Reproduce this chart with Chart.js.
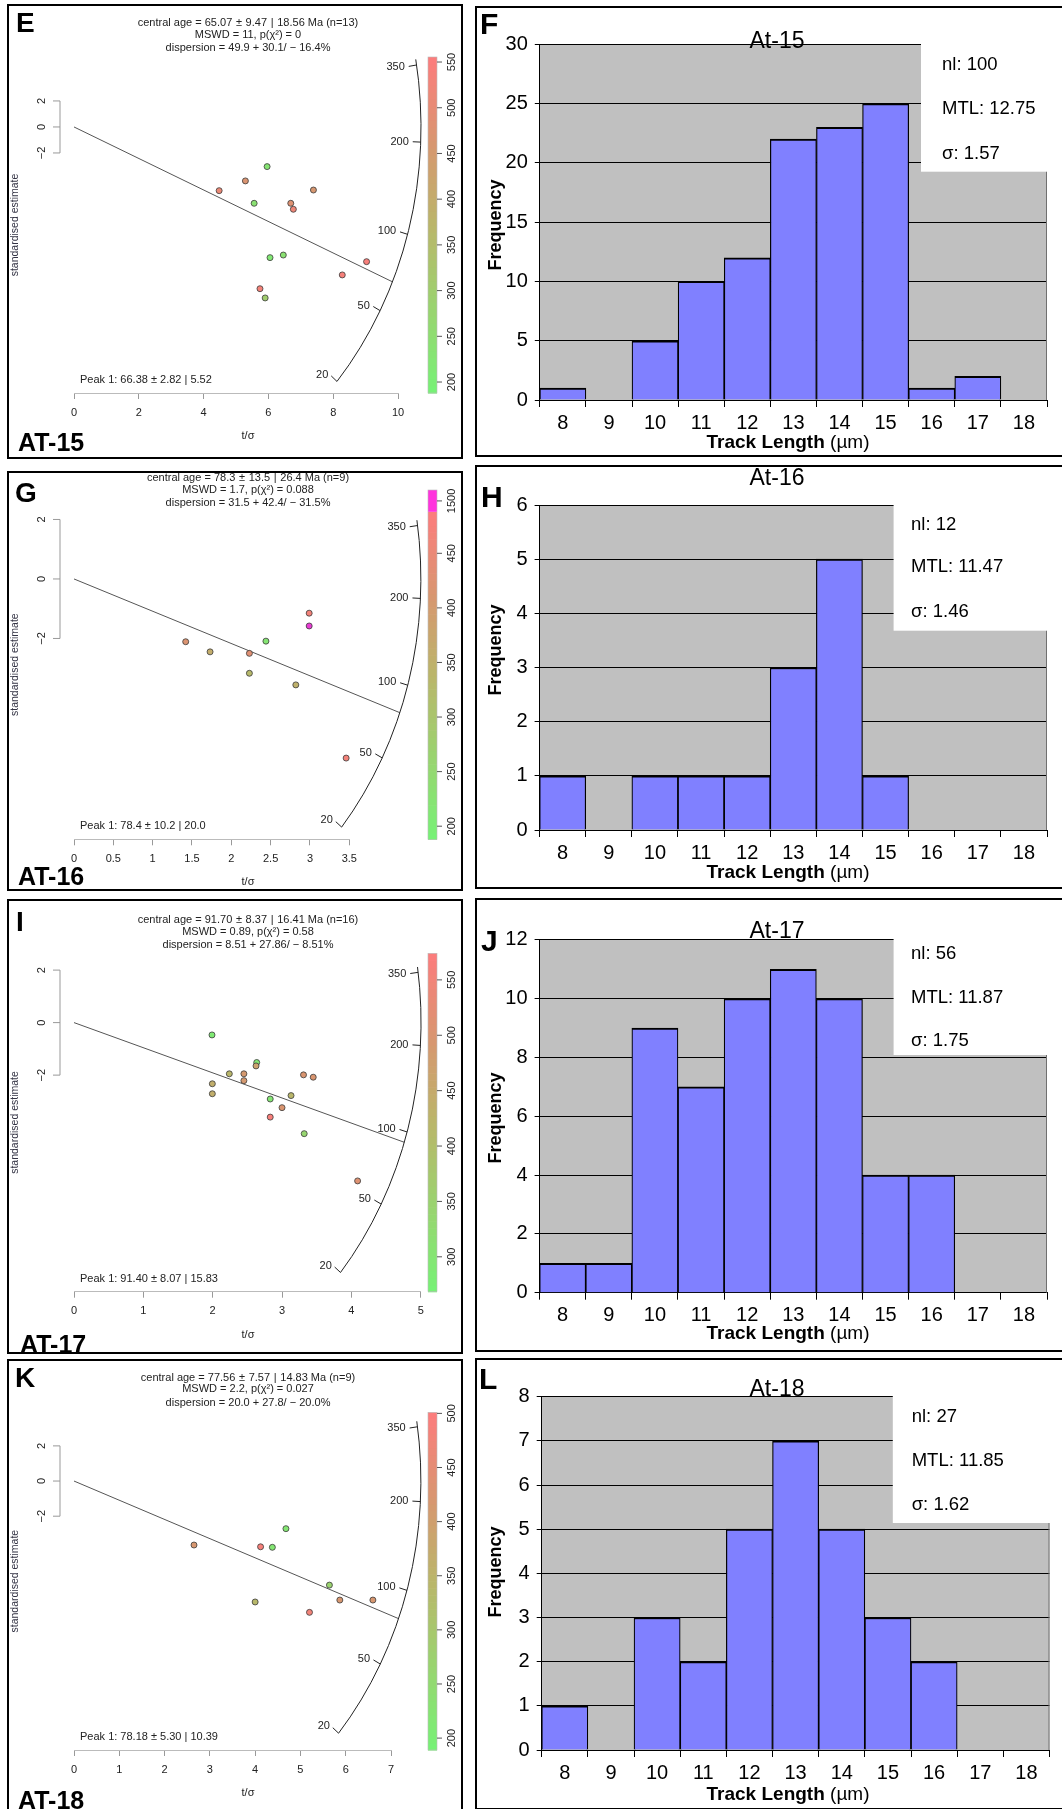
<!DOCTYPE html>
<html>
<head>
<meta charset="utf-8">
<title>Radial plots and track length histograms AT-15 to AT-18</title>
<script src="https://cdn.jsdelivr.net/npm/chart.js@4.4.1/dist/chart.umd.min.js"></script>
<style>
  body { margin: 0; background: #fff; }
  #page { position: relative; width: 1062px; height: 1809px; overflow: hidden; background: #fff; font-family: Arial, "Liberation Sans", sans-serif; }
  .frame { position: absolute; border: 2px solid #000; box-sizing: border-box; pointer-events: none; }
  .tag { position: absolute; font-weight: bold; line-height: 1; color: #000; white-space: nowrap; }
  canvas { position: absolute; }
</style>
</head>
<body>
<div id="page"></div>
<script>
// ---------- track length histograms ----------
const binLabels = ['8', '9', '10', '11', '12', '13', '14', '15', '16', '17', '18'];
const at15Freq = [1, 0, 5, 10, 12, 22, 23, 25, 1, 2, 0];
const at16Freq = [1, 0, 1, 1, 1, 3, 5, 1, 0, 0, 0];
const at17Freq = [1, 1, 9, 7, 10, 11, 10, 4, 4, 0, 0];
const at18Freq = [1, 0, 3, 2, 5, 7, 5, 3, 2, 0, 0];
const at15Stats = ['nl: 100', 'MTL: 12.75', 'σ: 1.57'];
const at16Stats = ['nl: 12', 'MTL: 11.47', 'σ: 1.46'];
const at17Stats = ['nl: 56', 'MTL: 11.87', 'σ: 1.75'];
const at18Stats = ['nl: 27', 'MTL: 11.85', 'σ: 1.62'];

// ---------- radial plots: t/sigma, standardised estimate, colour value ----------
const at15T = [5.96, 5.29, 4.48, 5.56, 6.69, 6.77, 7.39, 6.05, 6.46, 9.03, 8.28, 5.74, 5.90];
const at15Z = [-3.05, -4.15, -4.90, -5.87, -5.87, -6.33, -4.85, -10.05, -9.85, -10.36, -11.38, -12.44, -13.15];
const at15U = [230, 470, 510, 240, 480, 520, 460, 220, 240, 545, 540, 535, 300];

const at16T = [2.99, 2.99, 1.42, 1.73, 2.23, 2.44, 2.23, 2.82, 3.46];
const at16Z = [-1.15, -1.58, -2.11, -2.45, -2.50, -2.09, -3.17, -3.56, -6.02];
const at16U = [470, 1500, 420, 360, 430, 220, 330, 350, 470];

const at17T = [1.99, 2.24, 2.45, 2.45, 2.635, 2.625, 3.31, 3.45, 1.995, 1.995, 2.83, 3.13, 3.00, 2.83, 3.32, 4.09];
const at17Z = [-0.47, -1.95, -1.95, -2.21, -1.52, -1.65, -1.99, -2.08, -2.33, -2.71, -2.91, -2.78, -3.24, -3.60, -4.23, -6.03];
const at17U = [290, 420, 490, 490, 300, 470, 500, 500, 440, 440, 300, 420, 500, 565, 340, 510];

const at18T = [2.65, 4.12, 4.38, 4.68, 5.64, 4.00, 5.87, 6.60, 5.20];
const at18Z = [-3.64, -3.74, -3.77, -2.71, -5.92, -6.88, -6.77, -6.77, -7.47];
const at18U = [420, 490, 220, 220, 270, 340, 420, 420, 480];

const arcTicks = [20, 50, 100, 200, 350];
const zTicks = [2, 0, -2];

Chart.defaults.font.family = 'Arial, "Liberation Sans", sans-serif';
Chart.defaults.color = '#000';

const page = document.getElementById('page');
const SP = '\u2004'; // slightly wider space, as around plotmath operators

function makeCanvas(box) {
  const c = document.createElement('canvas');
  c.width = box.w;
  c.height = box.h;
  c.style.left = box.left + 'px';
  c.style.top = box.top + 'px';
  page.appendChild(c);
  return c;
}

function makeFrame(box) {
  const d = document.createElement('div');
  d.className = 'frame';
  d.style.left = box.left + 'px';
  d.style.top = box.top + 'px';
  d.style.width = box.w + 'px';
  d.style.height = box.h + 'px';
  page.appendChild(d);
}

function makeTag(text, left, capTop, size) {
  const d = document.createElement('div');
  d.className = 'tag';
  d.textContent = text;
  d.style.left = left + 'px';
  d.style.top = (capTop - 0.13 * size) + 'px';
  d.style.fontSize = size + 'px';
  page.appendChild(d);
}

// padding that puts the chart area where we want it inside the canvas
function pad(box, area, leftAxis, bottomAxis) {
  return {
    left: area.left - box.left - leftAxis,
    top: area.top - box.top,
    right: box.left + box.w - area.right,
    bottom: box.top + box.h - area.bottom - bottomAxis
  };
}

function rotText(ctx, text, x, y) {
  ctx.save();
  ctx.translate(x, y);
  ctx.rotate(-Math.PI / 2);
  ctx.fillText(text, 0, 0);
  ctx.restore();
}

// colour ramp of the colour bar (green -> olive -> red)
const rampStops = [
  [0.00, [118, 242, 118]],
  [0.30, [160, 206, 110]],
  [0.50, [186, 182, 106]],
  [0.75, [216, 150, 112]],
  [1.00, [252, 124, 124]]
];
function ramp(t) {
  t = Math.max(0, Math.min(1, t));
  for (let i = 1; i < rampStops.length; i++) {
    if (t <= rampStops[i][0]) {
      const [t0, c0] = rampStops[i - 1], [t1, c1] = rampStops[i];
      const f = (t - t0) / (t1 - t0);
      const c = c0.map((v, k) => Math.round(v + (c1[k] - v) * f));
      return `rgb(${c[0]},${c[1]},${c[2]})`;
    }
  }
  return 'rgb(252,124,124)';
}
function dotColour(u, r) {
  const top = r.cbBreak || r.cbMax;
  if (r.cbBreak && u > r.cbBreak) return '#e83cd4';
  return ramp((u - r.cbMin) / (top - r.cbMin));
}

// point on the age arc for a given age
function arcPoint(r, age) {
  const s = Math.log(age / r.t0);
  const x = 1 / Math.sqrt(1 / (r.rx * r.rx) + s * s / (r.ry * r.ry));
  return { x: x, y: s * x };
}

function radialDecor(r) {
  return {
    id: 'radialDecor',
    afterDraw(chart) {
      const ctx = chart.ctx, a = chart.chartArea, box = r.box;
      const xs = chart.scales.x, ys = chart.scales.y, cs = chart.scales.cb;
      const ox = xs.getPixelForValue(0), oy = ys.getPixelForValue(0);
      const rxPx = xs.getPixelForValue(r.rx) - ox, ryPx = oy - ys.getPixelForValue(r.ry);
      const angle = age => -Math.atan(Math.log(age / r.t0) * r.rx / r.ry);
      ctx.save();

      // age arc with ticks
      ctx.strokeStyle = '#222';
      ctx.lineWidth = 1;
      ctx.beginPath();
      ctx.ellipse(ox, oy, rxPx, ryPx, 0, angle(365), angle(arcTicks[0]));
      ctx.stroke();
      ctx.font = '11px Arial';
      ctx.fillStyle = '#222';
      ctx.textAlign = 'right';
      ctx.textBaseline = 'middle';
      arcTicks.forEach(age => {
        const f = angle(age);
        const x = ox + rxPx * Math.cos(f), y = oy + ryPx * Math.sin(f);
        const d = Math.hypot(x - ox, y - oy), ux = (ox - x) / d, uy = (oy - y) / d;
        ctx.beginPath();
        ctx.moveTo(x, y);
        ctx.lineTo(x + ux * 8, y + uy * 8);
        ctx.stroke();
        ctx.fillText(String(age), x + ux * 12, y + uy * 10);
      });

      // standardised estimate bracket
      const bx = a.left - 14;
      ctx.strokeStyle = '#999';
      ctx.beginPath();
      ctx.moveTo(bx, ys.getPixelForValue(Math.max(...zTicks)));
      ctx.lineTo(bx, ys.getPixelForValue(Math.min(...zTicks)));
      zTicks.forEach(v => {
        const y = ys.getPixelForValue(v);
        ctx.moveTo(bx, y);
        ctx.lineTo(bx - 7, y);
      });
      ctx.stroke();
      ctx.textAlign = 'center';
      ctx.fillStyle = '#222';
      zTicks.forEach(v => rotText(ctx, v < 0 ? '\u2212' + (-v) : String(v), bx - 18, ys.getPixelForValue(v)));
      ctx.font = '10.5px Arial';
      ctx.fillStyle = '#334';
      rotText(ctx, 'standardised estimate', a.left - 59, (a.top + a.bottom) / 2);

      // header and peak text
      ctx.fillStyle = '#222';
      ctx.font = '11px Arial';
      const hx = a.left + 174;
      r.header.forEach((line, i) => ctx.fillText(line, hx, r.headY - box.top + [0, 11.5, 25][i]));
      ctx.fillText('t/σ', hx, a.bottom + 43);
      ctx.textAlign = 'left';
      ctx.fillText(r.peakText, a.left + 6, a.bottom - 13);

      // colour bar
      const cbx = 428 - box.left, cbw = 9;
      const top = r.cbBreak || r.cbMax, n = 48;
      for (let i = 0; i < n; i++) {
        const v0 = r.cbMin + (top - r.cbMin) * i / n;
        const v1 = r.cbMin + (top - r.cbMin) * (i + 1) / n;
        const y0 = cs.getPixelForValue(v0), y1 = cs.getPixelForValue(v1);
        ctx.fillStyle = ramp(((v0 + v1) / 2 - r.cbMin) / (top - r.cbMin));
        ctx.fillRect(cbx, y1, cbw, y0 - y1 + 0.6);
      }
      if (r.cbBreak) {
        const yb = cs.getPixelForValue(r.cbBreak), yt = cs.getPixelForValue(r.cbMax);
        ctx.fillStyle = '#ff33dd';
        ctx.fillRect(cbx, yt, cbw, yb - yt);
      }
      ctx.strokeStyle = '#bbb';
      ctx.lineWidth = 0.6;
      ctx.strokeRect(cbx, cs.getPixelForValue(r.cbMax), cbw, cs.getPixelForValue(r.cbMin) - cs.getPixelForValue(r.cbMax));
      ctx.strokeStyle = '#555';
      ctx.lineWidth = 1;
      ctx.fillStyle = '#222';
      ctx.font = '11px Arial';
      ctx.textAlign = 'center';
      const cbTickList = r.cbTicks.map(v => [v, String(v)]);
      if (r.cbBreak) cbTickList.push([r.cbOutlierAt, r.cbOutlierLabel]);
      cbTickList.forEach(([v, label]) => {
        const y = cs.getPixelForValue(v);
        ctx.beginPath();
        ctx.moveTo(cbx + cbw, y);
        ctx.lineTo(cbx + cbw + 5, y);
        ctx.stroke();
        rotText(ctx, label, cbx + cbw + 15, y);
      });
      ctx.restore();
    }
  };
}

function drawRadial(r) {
  const canvas = makeCanvas(r.box);
  const pts = r.t.map((t, i) => ({ x: t, y: r.z[i] }));
  new Chart(canvas, {
    type: 'scatter',
    data: {
      datasets: [
        {
          data: pts,
          pointRadius: 3,
          pointBackgroundColor: r.u.map(u => dotColour(u, r)),
          pointBorderColor: '#3a3a3a',
          pointBorderWidth: 0.8,
          clip: false,
          order: 1
        },
        {
          type: 'line',
          data: [{ x: 0, y: 0 }, arcPoint(r, r.peak)],
          borderColor: '#555',
          borderWidth: 1,
          pointRadius: 0,
          clip: false,
          order: 2
        }
      ]
    },
    options: {
      responsive: false,
      animation: false,
      events: [],
      layout: { padding: pad(r.box, r.area, 0, 30) },
      plugins: { legend: { display: false }, tooltip: { enabled: false } },
      scales: {
        x: {
          type: 'linear', min: 0, max: r.xMax,
          ticks: { stepSize: r.xStep, color: '#222', font: { size: 11 }, padding: 7, callback: v => String(v) },
          grid: { drawOnChartArea: false, tickLength: 6, color: '#999' },
          border: { color: '#bbb' },
          afterFit: s => { s.height = 30; }
        },
        y: { type: 'linear', display: false, min: r.yMin, max: r.yMax },
        cb: { type: 'linear', axis: 'y', position: 'right', display: false, min: r.cbMin, max: r.cbMax }
      }
    },
    plugins: [radialDecor(r)]
  });
  makeFrame(r.box);
}

function histDecor(h) {
  return {
    id: 'histDecor',
    beforeDraw(chart) {
      const a = chart.chartArea, ctx = chart.ctx;
      ctx.save();
      ctx.fillStyle = '#c0c0c0';
      ctx.fillRect(a.left, a.top, a.right - a.left, a.bottom - a.top);
      ctx.restore();
    },
    afterDraw(chart) {
      const a = chart.chartArea, ctx = chart.ctx, box = h.box;
      ctx.save();
      ctx.strokeStyle = '#707070';
      ctx.lineWidth = 1;
      ctx.beginPath();
      ctx.moveTo(a.right - 0.5, a.top);
      ctx.lineTo(a.right - 0.5, a.bottom);
      ctx.stroke();
      // stats box
      const bl = h.statBox.left - box.left, bb = h.statBox.bottom - box.top;
      ctx.fillStyle = '#fff';
      ctx.fillRect(bl, a.top - 10, box.w - bl, bb - a.top + 10);
      ctx.fillStyle = '#000';
      ctx.font = '18.5px Arial';
      ctx.textBaseline = 'middle';
      ctx.textAlign = 'left';
      h.stats.forEach((s, i) => ctx.fillText(s, h.statBox.textX - box.left, h.statBox.y[i] - box.top));
      // title
      ctx.font = '23px Arial';
      ctx.textAlign = 'center';
      ctx.fillText(h.title, 777 - box.left, h.titleY - box.top);
      // axis titles
      ctx.font = 'bold 18px Arial';
      rotText(ctx, 'Frequency', 496 - box.left, h.yTitleY - box.top);
      ctx.font = 'bold 19px Arial';
      const w1 = ctx.measureText('Track Length ').width;
      ctx.font = '19px Arial';
      const w2 = ctx.measureText('(µm)').width;
      const x0 = 788 - box.left - (w1 + w2) / 2, ty = h.xTitleY - box.top;
      ctx.textAlign = 'left';
      ctx.font = 'bold 19px Arial';
      ctx.fillText('Track Length ', x0, ty);
      ctx.font = '19px Arial';
      ctx.fillText('(µm)', x0 + w1, ty);
      ctx.restore();
    }
  };
}

function drawHistogram(h) {
  const canvas = makeCanvas(h.box);
  new Chart(canvas, {
    type: 'bar',
    data: {
      labels: binLabels,
      datasets: [{
        data: h.freq,
        backgroundColor: '#8080ff',
        borderColor: '#000',
        borderWidth: { top: 2, left: 1.2, right: 1.2, bottom: 0 },
        borderSkipped: false,
        barPercentage: 1,
        categoryPercentage: 1
      }]
    },
    options: {
      responsive: false,
      animation: false,
      events: [],
      layout: { padding: pad(h.box, h.area, 60, 40) },
      plugins: { legend: { display: false }, tooltip: { enabled: false } },
      scales: {
        x: {
          grid: { offset: true, drawOnChartArea: false, tickLength: 7, color: '#000', lineWidth: 1 },
          border: { color: '#000', width: 1 },
          ticks: { color: '#000', font: { size: 20 }, padding: 4, maxRotation: 0, autoSkip: false },
          afterFit: s => { s.height = 40; }
        },
        y: {
          min: 0, max: h.max,
          ticks: { stepSize: h.step, color: '#000', font: { size: 20 }, padding: 7 },
          grid: { color: '#000', lineWidth: 1, tickLength: 5 },
          border: { color: '#000', width: 1 },
          afterFit: s => { s.width = 60; }
        }
      }
    },
    plugins: [histDecor(h)]
  });
  makeFrame(h.box);
}

// ---------- panels ----------
drawRadial({
  box: { left: 7, top: 4, w: 456, h: 455 }, area: { left: 74, right: 398, top: 57, bottom: 393 },
  t: at15T, z: at15Z, u: at15U, xMax: 10, xStep: 2, yMin: -20.46, yMax: 5.38,
  t0: 223, rx: 10.71, ry: 30.0, peak: 66.38,
  cbMin: 188, cbMax: 555.5, cbTicks: [200, 250, 300, 350, 400, 450, 500, 550],
  headY: 23.3,
  header: [`central age = 65.07${SP}±${SP}9.47${SP}|${SP}18.56 Ma (n=13)`, 'MSWD = 11, p(χ²) = 0', 'dispersion = 49.9 + 30.1/ − 16.4%'],
  peakText: 'Peak 1: 66.38 ± 2.82 | 5.52'
});
drawRadial({
  box: { left: 7, top: 471, w: 456, h: 420 }, area: { left: 74, right: 349.3, top: 490, bottom: 839.3 },
  t: at16T, z: at16Z, u: at16U, xMax: 3.5, xStep: 0.5, yMin: -8.75, yMax: 2.99,
  t0: 232, rx: 4.41, ry: 13.11, peak: 78.4,
  cbMin: 188, cbMax: 508, cbBreak: 488, cbOutlierAt: 498, cbOutlierLabel: '1500',
  cbTicks: [200, 250, 300, 350, 400, 450],
  headY: 478.3,
  header: [`central age = 78.3${SP}±${SP}13.5${SP}|${SP}26.4 Ma (n=9)`, 'MSWD = 1.7, p(χ²) = 0.088', 'dispersion = 31.5 + 42.4/ − 31.5%'],
  peakText: 'Peak 1: 78.4 ± 10.2 | 20.0'
});
drawRadial({
  box: { left: 7, top: 899, w: 456, h: 455 }, area: { left: 74, right: 420.7, top: 953.3, bottom: 1291.7 },
  t: at17T, z: at17Z, u: at17U, xMax: 5, xStep: 1, yMin: -10.25, yMax: 2.64,
  t0: 238, rx: 5.005, ry: 14.86, peak: 91.4,
  cbMin: 268.5, cbMax: 574, cbTicks: [300, 350, 400, 450, 500, 550],
  headY: 920,
  header: [`central age = 91.70${SP}±${SP}8.37${SP}|${SP}16.41 Ma (n=16)`, 'MSWD = 0.89, p(χ²) = 0.58', 'dispersion = 8.51 + 27.86/ − 8.51%'],
  peakText: 'Peak 1: 91.40 ± 8.07 | 15.83'
});
drawRadial({
  box: { left: 7, top: 1359, w: 456, h: 452 }, area: { left: 74, right: 391, top: 1412.3, bottom: 1750 },
  t: at18T, z: at18Z, u: at18U, xMax: 7, xStep: 1, yMin: -15.30, yMax: 3.91,
  t0: 233, rx: 7.66, ry: 22.18, peak: 78.18,
  cbMin: 189, cbMax: 501, cbTicks: [200, 250, 300, 350, 400, 450, 500],
  headY: 1377.7,
  header: [`central age = 77.56${SP}±${SP}7.57${SP}|${SP}14.83 Ma (n=9)`, 'MSWD = 2.2, p(χ²) = 0.027', 'dispersion = 20.0 + 27.8/ − 20.0%'],
  peakText: 'Peak 1: 78.18 ± 5.30 | 10.39'
});

drawHistogram({
  box: { left: 475, top: 6, w: 590, h: 451 }, area: { left: 539.8, right: 1047, top: 44.3, bottom: 400 },
  freq: at15Freq, stats: at15Stats, max: 30, step: 5, title: 'At-15', titleY: 41.7,
  statBox: { left: 921, bottom: 171.7, textX: 942, y: [65, 109, 154] },
  xTitleY: 443, yTitleY: 225
});
drawHistogram({
  box: { left: 475, top: 465, w: 590, h: 424 }, area: { left: 539.6, right: 1047, top: 505, bottom: 830 },
  freq: at16Freq, stats: at16Stats, max: 6, step: 1, title: 'At-16', titleY: 479,
  statBox: { left: 893.6, bottom: 630.7, textX: 911, y: [524.7, 567, 612] },
  xTitleY: 873, yTitleY: 650
});
drawHistogram({
  box: { left: 475, top: 898, w: 590, h: 454 }, area: { left: 539.6, right: 1047, top: 939.8, bottom: 1292.7 },
  freq: at17Freq, stats: at17Stats, max: 12, step: 2, title: 'At-17', titleY: 931.7,
  statBox: { left: 893.6, bottom: 1055, textX: 911, y: [953.6, 997.5, 1041] },
  xTitleY: 1334, yTitleY: 1118
});
drawHistogram({
  box: { left: 475, top: 1358, w: 590, h: 452 }, area: { left: 541.7, right: 1049.5, top: 1396.7, bottom: 1750 },
  freq: at18Freq, stats: at18Stats, max: 8, step: 1, title: 'At-18', titleY: 1390,
  statBox: { left: 892.8, bottom: 1523, textX: 911.7, y: [1416.7, 1461, 1505] },
  xTitleY: 1795, yTitleY: 1572
});

// panel letters and sample names
[['E', 16, 13], ['G', 15, 483], ['I', 16, 912], ['K', 15, 1368]].forEach(([t, x, y]) => makeTag(t, x, y, 28));
[['AT-15', 18, 433], ['AT-16', 18, 867], ['AT-17', 20, 1335], ['AT-18', 18, 1791]].forEach(([t, x, y]) => makeTag(t, x, y, 25));
[['F', 480, 13], ['H', 481, 486], ['J', 481, 930], ['L', 479, 1368]].forEach(([t, x, y]) => makeTag(t, x, y, 30));
</script>
</body>
</html>
